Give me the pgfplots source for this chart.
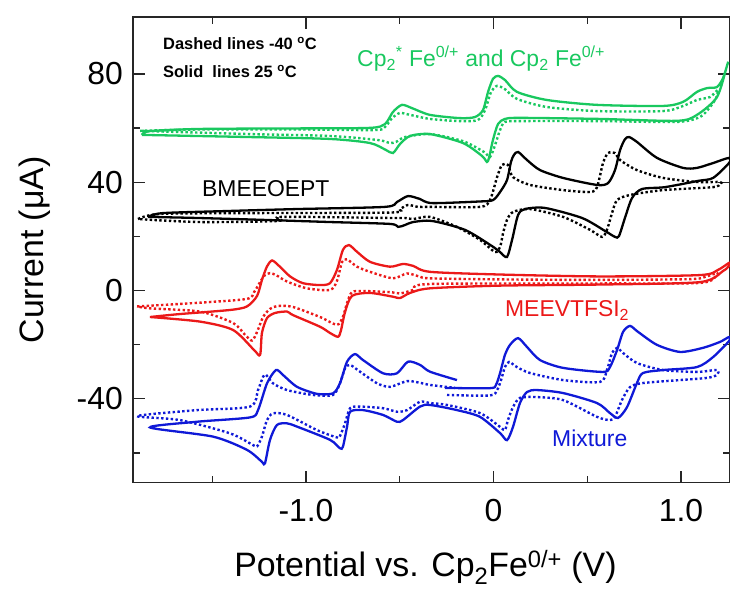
\documentclass[border=0pt]{standalone}
\usepackage{pgfplots}
\pgfplotsset{compat=1.18}
\usepackage{fontspec}
\setmainfont{Liberation Sans}
\definecolor{cvgreen}{RGB}{25,200,95}
\definecolor{cvred}{RGB}{235,25,25}
\definecolor{cvblue}{RGB}{15,25,215}
\begin{document}
\begin{tikzpicture}
\begin{axis}[
  scale only axis,
  width=596.76bp, height=465.7bp,
  xmin=-1.9227, xmax=1.26,
  ymin=-71.03, ymax=101.07,
  axis line style={line width=1.3bp, black!85},
  tick style={line width=1.3bp, black!85},
  tick align=inside,
  major tick length=12bp, minor tick length=7bp,
  xtick={-1,0,1}, xticklabels={-1.0,0,1.0},
  minor xtick={-1.5,-0.5,0.5},
  ytick={-40,0,40,80}, yticklabels={-40,0,40,80},
  minor ytick={-60,-20,20,60},
  xticklabel style={font=\fontsize{32}{38}\selectfont, inner sep=0pt, anchor=base, yshift=-39bp},
  yticklabel style={font=\fontsize{32}{38}\selectfont, inner sep=0pt, anchor=east, xshift=-10bp},
  every axis plot/.append style={smooth, tension=0.45},
  solid curve/.style={line width=2.3bp},
  dot curve/.style={line width=2.4bp, dash pattern=on 2.4bp off 2.4bp},
]
\coordinate (bl) at (rel axis cs:0,0);
\coordinate (tr) at (rel axis cs:1,1);
\coordinate (lm) at (rel axis cs:0,0.5);
\coordinate (bm) at (rel axis cs:0.49,0);
% ---------------- green (Cp2*Fe and Cp2Fe) ----------------
\addplot[cvgreen, dot curve] coordinates {
(-1.885,59.0) (-1.565,59.5) (-1.032,59.5) (-0.632,59.3) (-0.579,60.4) (-0.541,63.7) (-0.499,65.6) (-0.445,64.9) (-0.339,63.4) (-0.179,62.6) (-0.083,63.0) (-0.045,66.7) (-0.013,73.4) (0.019,75.6) (0.061,74.4) (0.125,70.8) (0.285,67.8) (0.552,66.3) (0.904,66.3) (1.011,68.2) (1.085,70.4) (1.155,71.5) (1.197,74.1)
(1.187,71.1) (1.155,67.8) (1.101,64.1) (0.979,62.3) (0.568,62.6) (0.141,62.6) (0.061,62.3) (0.035,59.3) (0.008,53.7) (-0.019,49.3) (-0.051,51.2) (-0.163,55.2) (-0.339,57.8) (-0.472,56.7) (-0.520,54.9) (-0.552,54.5) (-0.616,55.6) (-0.872,57.1) (-1.299,57.8) (-1.885,59.0)
};
\addplot[cvgreen, solid curve] coordinates {
(-1.875,57.5) (-1.832,58.9) (-1.565,59.7) (-1.032,59.9) (-0.659,60.1) (-0.579,61.5) (-0.536,66.0) (-0.488,68.6) (-0.435,67.4) (-0.339,64.9) (-0.179,63.7) (-0.099,64.1) (-0.056,66.7) (-0.029,73.4) (-0.003,78.2) (0.024,79.3) (0.061,77.8) (0.125,73.4) (0.285,70.4) (0.552,68.6) (0.904,68.2) (1.011,69.7) (1.085,73.4) (1.139,74.8) (1.192,75.2) (1.224,78.5) (1.251,84.4)
(1.245,83.0) (1.192,71.5) (1.085,64.9) (0.979,62.7) (0.568,63.4) (0.141,63.8) (0.061,63.4) (0.024,61.5) (-0.003,55.6) (-0.024,49.0) (-0.035,47.5) (-0.061,49.7) (-0.163,54.5) (-0.339,57.8) (-0.445,57.1) (-0.499,54.1) (-0.536,50.8) (-0.573,51.9) (-0.659,54.5) (-0.872,56.0) (-1.299,56.7) (-1.875,57.5)
};
% ---------------- black (BMEEOEPT) ----------------
\addplot[black, dot curve] coordinates {
(-1.896,26.4) (-1.779,28.3) (-1.299,28.6) (-0.552,28.8) (-0.499,30.1) (-0.456,31.6) (-0.403,30.9) (-0.339,30.9) (-0.072,30.9) (-0.019,33.4) (0.019,41.9) (0.045,46.4) (0.077,46.4) (0.104,41.9) (0.195,39.0) (0.371,37.1) (0.515,36.4) (0.552,38.2) (0.584,47.1) (0.611,50.8) (0.648,50.8) (0.675,48.2) (0.765,44.5) (0.904,41.6) (1.085,40.1) (1.208,40.1)
(1.208,39.4) (1.171,38.2) (0.904,37.1) (0.728,35.3) (0.659,33.4) (0.632,28.6) (0.605,22.4) (0.579,19.8) (0.515,22.4) (0.371,27.2) (0.195,30.1) (0.104,29.0) (0.072,26.1) (0.051,21.2) (0.035,16.1) (0.008,14.2) (-0.072,18.7) (-0.195,23.5) (-0.339,27.2) (-0.429,26.4) (-0.472,26.8) (-0.552,26.8) (-1.128,27.2) (-1.149,25.7) (-1.565,25.3) (-1.896,26.4)
};
\addplot[black, solid curve] coordinates {
(-1.843,27.2) (-1.763,28.6) (-1.405,29.4) (-1.048,30.1) (-0.579,30.9) (-0.515,32.7) (-0.456,34.9) (-0.392,33.8) (-0.328,32.3) (-0.072,32.9) (-0.003,33.4) (0.035,36.4) (0.072,40.8) (0.093,47.5) (0.109,50.1) (0.131,51.2) (0.179,48.2) (0.248,44.5) (0.371,41.6) (0.552,39.0) (0.611,39.7) (0.648,44.5) (0.675,51.9) (0.701,55.9) (0.723,56.7) (0.765,54.9) (0.872,49.0) (1.011,45.3) (1.085,45.3) (1.171,47.1) (1.256,49.0)
(1.256,47.1) (1.171,41.6) (1.091,40.5) (0.915,38.2) (0.792,37.5) (0.739,34.2) (0.701,26.8) (0.669,20.1) (0.648,19.8) (0.595,22.0) (0.472,26.8) (0.275,30.5) (0.168,30.1) (0.131,27.9) (0.099,18.7) (0.072,12.4) (0.035,14.2) (-0.008,16.4) (-0.152,22.4) (-0.328,25.7) (-0.429,25.3) (-0.472,24.2) (-0.509,23.5) (-0.552,24.6) (-0.872,25.3) (-1.229,26.1) (-1.581,26.8) (-1.843,27.2)
};
% ---------------- red (MEEVTFSI2) ----------------
\addplot[cvred, dot curve] coordinates {
(-1.901,-5.9) (-1.565,-4.5) (-1.315,-3.1) (-1.277,-0.6) (-1.245,3.1) (-1.219,5.7) (-1.192,6.4) (-1.160,5.7) (-1.101,3.3) (-0.995,0.8) (-0.872,0.2) (-0.835,3.5) (-0.808,10.5) (-0.781,11.5) (-0.728,8.8) (-0.659,6.9) (-0.536,4.5) (-0.461,6.3) (-0.392,5.1) (-0.339,4.5) (0.035,4.1) (0.568,3.9) (1.048,4.2) (1.128,5.0) (1.192,6.5)
(1.187,5.4) (1.101,2.8) (0.568,2.6) (-0.339,2.4) (-0.429,0.2) (-0.499,-1.1) (-0.552,-0.6) (-0.696,-0.2) (-0.755,-0.6) (-0.781,-4.6) (-0.803,-9.7) (-0.835,-12.7) (-0.925,-9.8) (-1.069,-6.1) (-1.149,-5.7) (-1.192,-6.8) (-1.229,-9.8) (-1.261,-15.3) (-1.288,-18.5) (-1.325,-16.4) (-1.389,-12.0) (-1.565,-7.8) (-1.832,-6.6) (-1.901,-5.9)
};
\addplot[cvred, solid curve] coordinates {
(-1.832,-9.8) (-1.672,-8.7) (-1.405,-7.2) (-1.315,-5.9) (-1.261,-2.0) (-1.235,3.9) (-1.208,8.9) (-1.181,11.1) (-1.144,9.1) (-1.085,5.2) (-1.016,2.7) (-0.925,2.0) (-0.872,2.7) (-0.835,7.6) (-0.803,15.0) (-0.771,16.8) (-0.728,14.3) (-0.659,10.6) (-0.552,8.8) (-0.483,9.8) (-0.429,9.1) (-0.339,6.9) (0.035,5.9) (0.568,5.2) (1.101,5.7) (1.197,7.6) (1.256,10.2)
(1.256,9.1) (1.224,7.2) (1.101,3.1) (0.568,2.2) (0.035,1.8) (-0.339,0.8) (-0.445,-0.9) (-0.499,-2.8) (-0.536,-2.3) (-0.659,-0.9) (-0.755,-2.0) (-0.792,-8.0) (-0.813,-14.6) (-0.829,-17.1) (-0.872,-15.7) (-0.925,-13.4) (-1.069,-9.1) (-1.101,-7.8) (-1.165,-8.3) (-1.208,-10.2) (-1.235,-15.7) (-1.245,-23.8) (-1.277,-22.0) (-1.389,-14.6) (-1.565,-11.5) (-1.832,-9.8)
};
% ---------------- blue (Mixture) ----------------
\addplot[cvblue, dot curve] coordinates {
(-0.248,-38.6) (-0.019,-38.8) (0.019,-36.8) (0.040,-33.1) (0.061,-28.3) (0.083,-26.4) (0.125,-28.3) (0.195,-30.5) (0.371,-33.1) (0.568,-33.8) (0.605,-29.4) (0.632,-23.1) (0.659,-21.2) (0.691,-23.1) (0.765,-26.8) (0.904,-29.4) (1.085,-30.1) (1.192,-29.4)
(1.192,-31.2) (1.139,-32.3) (0.995,-33.1) (0.797,-34.2) (0.728,-35.7) (0.685,-40.5) (0.648,-46.7) (0.621,-47.9) (0.552,-46.7) (0.371,-40.5) (0.232,-39.4) (0.141,-39.7) (0.104,-43.1) (0.077,-47.9) (0.061,-51.6) (0.035,-50.4) (-0.072,-45.3) (-0.248,-42.3) (-0.339,-41.6) (-0.392,-41.1) (-0.461,-44.2) (-0.515,-44.8) (-0.589,-43.5) (-0.712,-42.9) (-0.765,-43.5) (-0.792,-49.1) (-0.819,-53.8) (-0.835,-54.3) (-0.941,-51.6) (-1.101,-46.0) (-1.176,-45.4) (-1.208,-47.9) (-1.235,-54.0) (-1.261,-57.6) (-1.283,-57.1) (-1.405,-52.8) (-1.672,-47.9) (-1.901,-46.4)
(-1.581,-44.2) (-1.299,-42.9) (-1.256,-36.8) (-1.229,-31.9) (-1.213,-31.2) (-1.176,-34.3) (-1.101,-36.8) (-0.963,-38.6) (-0.856,-38.6) (-0.819,-34.3) (-0.792,-28.8) (-0.765,-27.5) (-0.712,-30.0) (-0.621,-34.3) (-0.552,-35.6) (-0.461,-33.5) (-0.392,-34.1) (-0.339,-34.9) (-0.205,-36.0)
};
\addplot[cvblue, solid curve] coordinates {
(-0.259,-36.0) (-0.019,-36.1) (0.013,-34.9) (0.035,-30.5) (0.061,-23.8) (0.088,-20.1) (0.131,-17.6) (0.179,-20.9) (0.248,-25.7) (0.371,-28.6) (0.584,-30.1) (0.621,-28.3) (0.659,-22.0) (0.691,-15.3) (0.728,-13.1) (0.771,-15.3) (0.872,-20.1) (0.995,-22.7) (1.117,-21.2) (1.208,-19.0) (1.256,-17.2)
(1.256,-18.7) (1.171,-24.6) (1.085,-28.3) (0.904,-29.4) (0.797,-30.5) (0.765,-34.2) (0.712,-43.1) (0.664,-47.1) (0.621,-45.3) (0.552,-41.6) (0.371,-37.9) (0.232,-36.8) (0.179,-37.5) (0.141,-41.6) (0.104,-50.4) (0.072,-55.3) (0.035,-52.7) (-0.072,-46.7) (-0.195,-44.2) (-0.339,-42.3) (-0.392,-42.9) (-0.483,-47.9) (-0.515,-48.5) (-0.589,-46.0) (-0.696,-44.2) (-0.765,-44.8) (-0.781,-50.3) (-0.803,-57.7) (-0.819,-58.3) (-0.872,-55.2) (-1.048,-50.3) (-1.101,-49.1) (-1.155,-49.7) (-1.192,-55.2) (-1.219,-63.9) (-1.235,-63.3) (-1.315,-58.9) (-1.496,-54.0) (-1.832,-50.6)
(-1.581,-48.5) (-1.299,-46.9) (-1.256,-44.2) (-1.208,-34.3) (-1.160,-29.4) (-1.123,-31.2) (-1.048,-35.6) (-0.941,-38.2) (-0.856,-38.0) (-0.819,-34.3) (-0.781,-26.3) (-0.739,-23.5) (-0.696,-25.7) (-0.589,-30.6) (-0.515,-30.6) (-0.456,-26.3) (-0.392,-27.5) (-0.339,-30.0) (-0.195,-33.1)
};
% ---------------- annotations ----------------
\node[anchor=base west, inner sep=0pt, font=\fontsize{16.5}{20}\selectfont\bfseries] at (axis cs:-1.763,88.9) {Dashed lines -40 \textsuperscript{o}C};
\node[anchor=base west, inner sep=0pt, font=\fontsize{16.5}{20}\selectfont\bfseries] at (axis cs:-1.763,78.6) {Solid\ \ lines 25 \textsuperscript{o}C};
\node[anchor=base west, inner sep=0pt, text=cvgreen, font=\fontsize{23}{28}\selectfont] at (axis cs:-0.728,82.8) {Cp\textsubscript{2}\textsuperscript{*} Fe\textsuperscript{0/+} and Cp\textsubscript{2} Fe\textsuperscript{0/+}};
\node[anchor=base west, inner sep=0pt, text=black, font=\fontsize{23}{28}\selectfont] at (axis cs:-1.555,34.7) {BMEEOEPT};
\node[anchor=base west, inner sep=0pt, text=cvred, font=\fontsize{23}{28}\selectfont] at (axis cs:0.061,-9.7) {MEEVTFSI\textsubscript{2}};
\node[anchor=base west, inner sep=0pt, text=cvblue, font=\fontsize{23}{28}\selectfont] at (axis cs:0.312,-57.7) {Mixture};
\end{axis}
\node[rotate=90, anchor=base, inner sep=0pt, font=\fontsize{34}{40}\selectfont] at ([xshift=-89bp]lm) {Current (μA)};
\node[anchor=base, inner sep=0pt, font=\fontsize{34}{40}\selectfont] at ([yshift=-94bp]bm) {Potential vs. Cp\textsubscript{2}Fe\textsuperscript{0/+} (V)};
\pgfresetboundingbox
\path ([shift={(-133bp,-108.3bp)}]bl) rectangle ([shift={(0.24bp,17bp)}]tr);
\end{tikzpicture}
\end{document}
